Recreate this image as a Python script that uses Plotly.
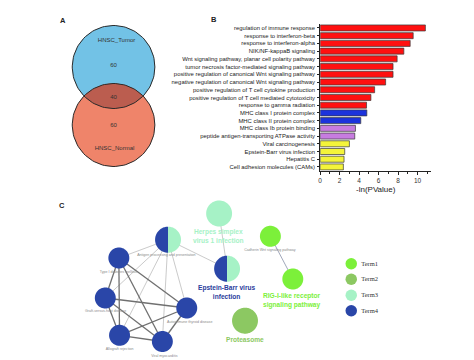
import numpy as np
import plotly.graph_objects as go

# ---------------- DATA ----------------
venn_sets = ["HNSC_Tumor", "HNSC_Normal"]
venn_counts = [60, 40, 60]  # tumor only, shared, normal only

terms = [
    "regulation of immune response",
    "response to interferon-beta",
    "response to interferon-alpha",
    "NIK/NF-kappaB signaling",
    "Wnt signaling pathway, planar cell polarity pathway",
    "tumor necrosis factor-mediated signaling pathway",
    "positive regulation of canonical Wnt signaling pathway",
    "negative regulation of canonical Wnt signaling pathway",
    "positive regulation of T cell cytokine production",
    "positive regulation of T cell mediated cytotoxicity",
    "response to gamma radiation",
    "MHC class I protein complex",
    "MHC class II protein complex",
    "MHC class Ib protein binding",
    "peptide antigen-transporting ATPase activity",
    "Viral carcinogenesis",
    "Epstein-Barr virus infection",
    "Hepatitis C",
    "Cell adhesion molecules (CAMs)",
]
neg_ln_p = [10.8, 9.55, 9.24, 8.59, 7.9, 7.48, 7.48, 6.72, 5.59, 5.21,
            4.76, 4.79, 4.17, 3.62, 3.55, 3.0, 2.52, 2.45, 2.38]
term_group = ["BP"] * 11 + ["CC"] * 2 + ["MF"] * 2 + ["KEGG"] * 4

node_ids = ["AP", "T1", "GV", "AR", "VM", "AT", "HSV", "EB", "PRO", "CAD", "RIG"]
node_names = [
    "Antigen processing and presentation",
    "Type I diabetes mellitus",
    "Graft-versus-host disease",
    "Allograft rejection",
    "Viral myocarditis",
    "Autoimmune thyroid disease",
    "Herpes simplex<br>virus 1 infection",
    "Epstein-Barr virus<br>infection",
    "Proteasome",
    "Cadherin Wnt signaling pathway",
    "RIG-I-like receptor<br>signaling pathway",
]
node_terms = [["Term4", "Term3"], ["Term4"], ["Term4"], ["Term4"], ["Term4"], ["Term4"],
              ["Term3"], ["Term4", "Term3"], ["Term2"], ["Term1"], ["Term1"]]
node_major = [False, False, False, False, False, False, True, True, True, False, True]
strong_edges = [("T1", "GV"), ("T1", "AR"), ("T1", "VM"), ("T1", "AT"), ("GV", "AR"),
                ("GV", "VM"), ("GV", "AT"), ("AR", "VM"), ("AR", "AT"), ("VM", "AT")]
weak_edges = [("AP", "T1"), ("AP", "GV"), ("AP", "AR"), ("AP", "VM"), ("AP", "AT"),
              ("AP", "EB"), ("HSV", "EB"), ("CAD", "RIG")]
legend_terms = ["Term1", "Term2", "Term3", "Term4"]

# ---------------- STYLE / LAYOUT PARAMS ----------------
W, H = 474, 360
group_color = {"BP": "#ff1010", "CC": "#1c33dc", "MF": "#c77ce0", "KEGG": "#f4f43a"}
term_color = {"Term1": "#7cf03a", "Term2": "#8cc862", "Term3": "#a6f2c6", "Term4": "#2a46a8"}
label_color = {"HSV": "#a6f2c6", "EB": "#2a3c9c", "PRO": "#8cc862", "RIG": "#7cf03a"}

# layout positions (pixel-like coordinates on an overlay axis)
node_pos = {
    "AP": (158.7, 231.7), "T1": (109.3, 250.0), "GV": (95.7, 290.0), "AR": (110.0, 327.3),
    "VM": (153.0, 333.5), "AT": (177.5, 300.0), "HSV": (210.0, 205.5), "EB": (218.0, 260.7),
    "PRO": (236.0, 312.7), "CAD": (261.5, 228.3), "RIG": (284.0, 271.0),
}
node_r = {"AP": 13, "HSV": 13, "EB": 13, "PRO": 13}
label_pos_small = {
    "AP": (157, 247), "T1": (109, 264), "GV": (96, 303.3), "AR": (110, 341),
    "VM": (155, 347.7), "AT": (180.5, 314.3), "CAD": (261, 241.7),
}
label_pos_big = {"HSV": (209, 228), "EB": (217, 283.5), "PRO": (236, 331), "RIG": (283, 292)}

fig = go.Figure()

def circle_pts(cx, cy, r, a0=0, a1=2 * np.pi, n=120):
    t = np.linspace(a0, a1, n)
    return cx + r * np.cos(t), cy + r * np.sin(t)

# ---------------- VENN (overlay axis x/y, pixel coords) ----------------
c1 = (104.0, 59.0)
c2 = (104.0, 117.0)
R = 41.5
for (cx, cy), col in [(c1, "#72c2e6"), (c2, "#ef846a")]:
    x, y = circle_pts(cx, cy, R)
    fig.add_trace(go.Scatter(x=x, y=y, fill="toself", fillcolor=col, mode="none",
                             hoverinfo="skip", showlegend=False))
# lens
d = c2[1] - c1[1]
half = np.arccos(d / 2 / R)
x_a, y_a = circle_pts(c1[0], c1[1], R, np.pi / 2 - half, np.pi / 2 + half, 60)
x_b, y_b = circle_pts(c2[0], c2[1], R, -np.pi / 2 + half, -np.pi / 2 - half, 60)
fig.add_trace(go.Scatter(x=np.concatenate([x_a, x_b]), y=np.concatenate([y_a, y_b]),
                         fill="toself", fillcolor="#bb5d4f", mode="none",
                         hoverinfo="skip", showlegend=False))
for (cx, cy) in [c1, c2]:
    x, y = circle_pts(cx, cy, R)
    fig.add_trace(go.Scatter(x=x, y=y, mode="lines", line=dict(color="#2b2b2b", width=1),
                             hoverinfo="skip", showlegend=False))
fig.add_trace(go.Scatter(
    x=[107, 104, 104, 104, 105],
    y=[32, 57, 89, 117, 140],
    text=[venn_sets[0], str(venn_counts[0]), str(venn_counts[1]), str(venn_counts[2]), venn_sets[1]],
    mode="text", textfont=dict(family="Arial", size=[6, 6, 6, 6, 6], color="#333"),
    hoverinfo="skip", showlegend=False))

# ---------------- NETWORK ----------------
def edge_xy(edges):
    xs, ys = [], []
    for a, b in edges:
        xs += [node_pos[a][0], node_pos[b][0], None]
        ys += [node_pos[a][1], node_pos[b][1], None]
    return xs, ys

ex, ey = edge_xy(weak_edges[:-1])
fig.add_trace(go.Scatter(x=ex, y=ey, mode="lines", line=dict(color="#c4c4c4", width=0.9),
                         hoverinfo="skip", showlegend=False))
ex, ey = edge_xy(weak_edges[-1:])
fig.add_trace(go.Scatter(x=ex, y=ey, mode="lines", line=dict(color="#8890a8", width=0.8),
                         hoverinfo="skip", showlegend=False))
ex, ey = edge_xy(strong_edges)
fig.add_trace(go.Scatter(x=ex, y=ey, mode="lines", line=dict(color="#707070", width=1.3),
                         hoverinfo="skip", showlegend=False))

for nid, tl in zip(node_ids, node_terms):
    cx, cy = node_pos[nid]
    r = node_r.get(nid, 10.5)
    if len(tl) == 1:
        x, y = circle_pts(cx, cy, r)
        fig.add_trace(go.Scatter(x=x, y=y, fill="toself", fillcolor=term_color[tl[0]],
                                 mode="none", hoverinfo="skip", showlegend=False))
    else:
        n = len(tl)
        for i, t in enumerate(tl):
            a0 = np.pi / 2 + i * 2 * np.pi / n
            a1 = a0 + 2 * np.pi / n
            x, y = circle_pts(cx, cy, r, a0, a1, 60)
            x = np.concatenate([[cx], x, [cx]])
            y = np.concatenate([[cy], y, [cy]])
            fig.add_trace(go.Scatter(x=x, y=y, fill="toself", fillcolor=term_color[t],
                                     mode="none", hoverinfo="skip", showlegend=False))

# small grey labels
sm = [nid for nid in node_ids if nid in label_pos_small]
fig.add_trace(go.Scatter(
    x=[label_pos_small[n][0] for n in sm], y=[label_pos_small[n][1] for n in sm],
    text=[node_names[node_ids.index(n)] for n in sm], mode="text",
    textfont=dict(family="Arial", size=3.6, color="#8a8a8a"),
    hoverinfo="skip", showlegend=False))
# big coloured labels
for nid in node_ids:
    if nid in label_pos_big:
        fig.add_annotation(x=label_pos_big[nid][0], y=label_pos_big[nid][1], xref="x", yref="y",
                           text="<b>" + node_names[node_ids.index(nid)] + "</b>", showarrow=False,
                           font=dict(family="Arial", size=6.6, color=label_color[nid]),
                           align="center")

# legend (drawn)
leg_x = 342.7
leg_y = [255.7, 271.3, 287.2, 302.8]
fig.add_trace(go.Scatter(
    x=[leg_x] * 4, y=leg_y, mode="markers",
    marker=dict(size=11.5, color=[term_color[t] for t in legend_terms], line=dict(width=0)),
    hoverinfo="skip", showlegend=False))
fig.add_trace(go.Scatter(
    x=[leg_x + 10] * 4, y=[v + 0.5 for v in leg_y], mode="text", text=legend_terms,
    textposition="middle right",
    textfont=dict(family="Liberation Serif", size=6.5, color="#333"),
    hoverinfo="skip", showlegend=False))

# panel letters
for t, (px, py) in zip(["A", "B", "C"], [(53, 12), (205, 11), (52, 197)]):
    fig.add_annotation(x=px, y=py, xref="x", yref="y", text="<b>" + t + "</b>", showarrow=False,
                       font=dict(family="Arial", size=7.5, color="#222"))

# ---------------- BAR CHART ----------------
fig.add_trace(go.Bar(
    x=neg_ln_p, y=terms, orientation="h", xaxis="x2", yaxis="y2",
    marker=dict(color=[group_color[g] for g in term_group], line=dict(color="#3a3a3a", width=0.7)),
    width=0.78, hoverinfo="skip", showlegend=False))

x0_px, x1_px = 311.5, 423.0
y_top_px, y_bot_px = 16.1, 162.8
fig.update_layout(
    width=W, height=H, margin=dict(l=0, r=0, t=0, b=0),
    paper_bgcolor="white", plot_bgcolor="rgba(0,0,0,0)",
    xaxis=dict(domain=[0, 1], range=[0, W], visible=False, fixedrange=True),
    yaxis=dict(domain=[0, 1], range=[H, 0], visible=False, fixedrange=True),
    xaxis2=dict(domain=[x0_px / W, x1_px / W], range=[0, 11.4], anchor="y2",
                tickvals=[0, 2, 4, 6, 8, 10], ticks="outside", ticklen=3, tickwidth=1,
                tickcolor="#222", showline=True, linecolor="#222", linewidth=1,
                showgrid=False, zeroline=False,
                minor=dict(ticks="outside", ticklen=2, dtick=1, tickcolor="#222", showgrid=False),
                tickfont=dict(family="Arial", size=6.5, color="#333"),
                title=dict(text="-ln(PValue)", font=dict(family="Arial", size=8, color="#222"),
                           standoff=3)),
    yaxis2=dict(domain=[1 - y_bot_px / H, 1 - y_top_px / H], anchor="x2",
                categoryorder="array", categoryarray=terms[::-1],
                range=[-0.5, len(terms) - 0.5],
                ticks="outside", ticklen=2, tickwidth=1, tickcolor="#222",
                showline=True, linecolor="#222", linewidth=1, showgrid=False,
                tickfont=dict(family="Arial", size=5.9, color="#222"), ticklabelstandoff=1),
)

fig.write_html("out.html")
